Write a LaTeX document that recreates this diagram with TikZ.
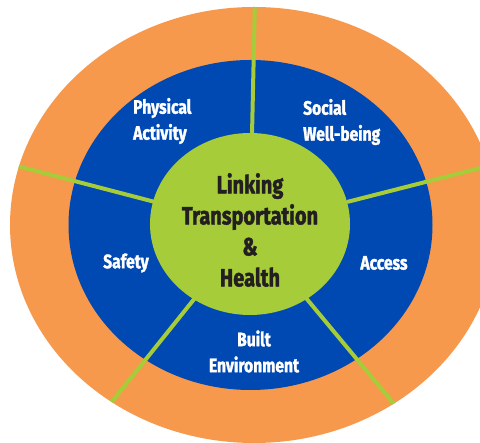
\documentclass[tikz,border=0pt]{standalone}
\usepackage{fontspec}
\setmainfont[FakeStretch=0.8, BoldFeatures={FakeBold=1.6}]{Fira Sans}
\definecolor{ringorange}{RGB}{247,153,77}
\definecolor{ringblue}{RGB}{0,72,178}
\definecolor{limegreen}{RGB}{166,204,57}
\definecolor{darktext}{RGB}{35,31,32}
\tikzset{
  divider/.style={draw=limegreen, line width=4pt},
  seglabel/.style={text=white, font=\fontsize{19.5}{26}\selectfont\bfseries, inner sep=0pt},
  corelabel/.style={text=darktext, font=\fontsize{25}{31}\selectfont\bfseries, align=center, inner sep=0pt}
}
\begin{document}
\begin{tikzpicture}[x=1pt,y=-1pt]
\useasboundingbox (0,0) rectangle (480,443);
\fill[ringorange] (254,225) ellipse [x radius=244, y radius=218];
\fill[ringblue] (250.5,225) ellipse [x radius=182, y radius=165];
\begin{scope}
  \clip (254,225) ellipse [x radius=244, y radius=218];
  \coordinate (c) at (250,224);
  \coordinate (t0) at (252,135);
  \coordinate (t1) at (255.2,-10);
  \coordinate (ul0) at (155,202);
  \coordinate (ul1) at (-10,159);
  \coordinate (ur0) at (347,202);
  \coordinate (ur1) at (500,163);
  \coordinate (ll0) at (195,298);
  \coordinate (ll1) at (90,429);
  \coordinate (lr0) at (306,298);
  \coordinate (lr1) at (414,428);
  \draw[divider] (t0) -- (t1);
  \draw[divider] (ul0) -- (ul1);
  \draw[divider] (ur0) -- (ur1);
  \draw[divider] (ll0) -- (ll1);
  \draw[divider] (lr0) -- (lr1);
\end{scope}
\fill[limegreen] (250,224) ellipse [x radius=100, y radius=91];
\node[corelabel] (core) at (250,230) {Linking\\Transportation\\\&\\Health};
\node[seglabel, align=left, anchor=west] (phys) at (133,121) {Physical\\Activity};
\node[seglabel, align=left, anchor=west] (social) at (303,122) {Social\\Well-being};
\node[seglabel] (safety) at (126,263) {Safety};
\node[seglabel] (access) at (384,263) {Access};
\node[seglabel, align=center] (built) at (254,351.5) {Built\\Environment};
\end{tikzpicture}
\end{document}
